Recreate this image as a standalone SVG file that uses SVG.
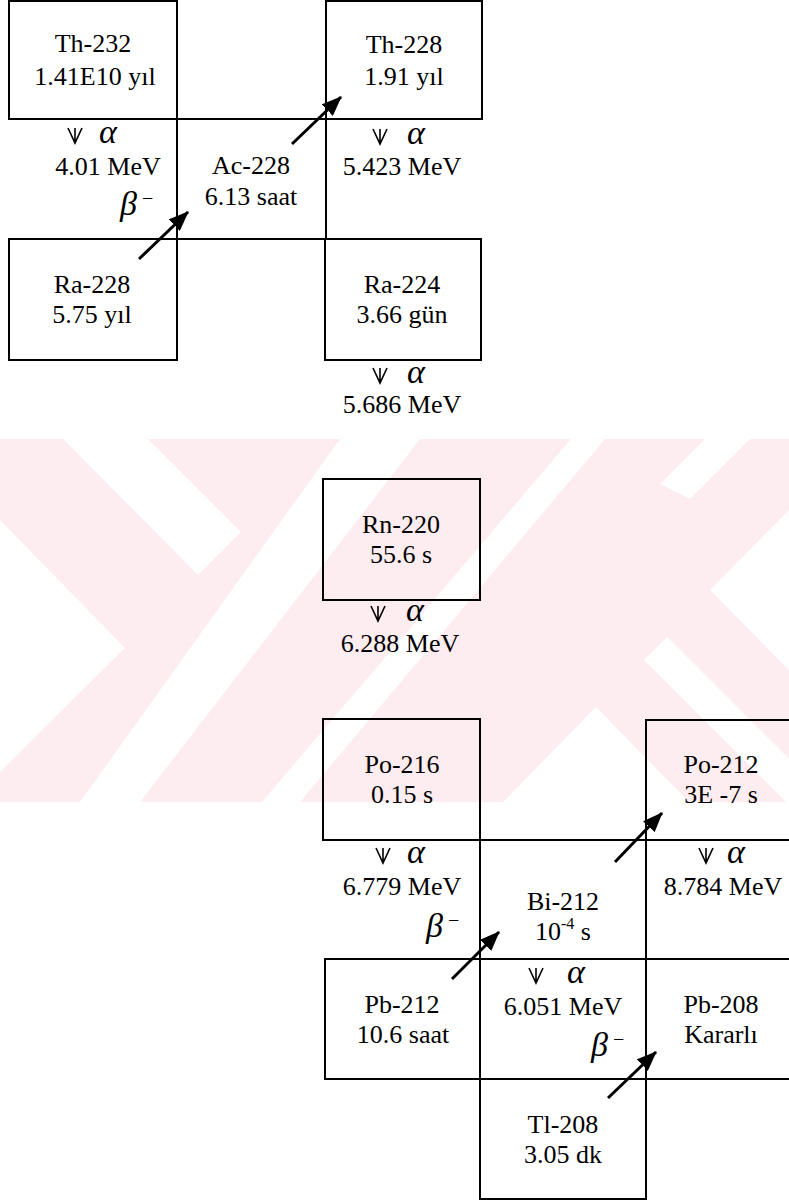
<svg xmlns="http://www.w3.org/2000/svg" width="789" height="1202" viewBox="0 0 789 1202">
<style>
.bx{fill:none;stroke:#000;stroke-width:2}
.t{font-family:"Liberation Serif","Times New Roman",serif;font-size:26px;fill:#000;text-anchor:middle}
.g{font-family:"Liberation Serif","Times New Roman",serif;font-style:italic;font-size:34px;fill:#000}
.m{font-family:"Liberation Serif","Times New Roman",serif;font-size:20px;fill:#000}
.ar{stroke:#000;stroke-width:3;fill:none;marker-end:url(#ah)}
.wm{fill:#fff}
</style>
<defs>
<marker id="ah" markerUnits="userSpaceOnUse" markerWidth="20" markerHeight="16" refX="19" refY="8" orient="auto">
<path d="M0,0 L20,8 L0,16 z" fill="#000"/>
</marker>
<symbol id="dn" viewBox="0 0 16 17" overflow="visible">
<path d="M1,1 L8,16 L15,1 M8,1 V16" fill="none" stroke="#000" stroke-width="1.6"/>
</symbol>
<clipPath id="wmclip"><rect x="0" y="439" width="789" height="363"/></clipPath>
</defs>
<rect width="789" height="1202" fill="#fff"/>
<g id="watermark" clip-path="url(#wmclip)">
<rect x="0" y="439" width="789" height="363" fill="#feedf0"/>
<polygon class="wm" points="63,439 148,439 241,532 198,575"/>
<polygon class="wm" points="0,520 125,648 0,772"/>
<polygon class="wm" points="340,439 420,439 140,802 80,802"/>
<polygon class="wm" points="571,439 605,439 300,802 262,802"/>
<polygon class="wm" points="705,439 750,439 690,499 660,484"/>
<polygon class="wm" points="596,707 689,802 503,802"/>
<polygon class="wm" points="789,510 710,590 789,670"/>
<polygon class="wm" points="667,637 789,759 789,805 644,660"/>
</g>
<g id="connectors">
<line class="ar" x1="292" y1="144" x2="341" y2="97"/>
<line class="ar" x1="139" y1="259" x2="188" y2="212"/>
<line class="ar" x1="452" y1="979" x2="499" y2="932"/>
<line class="ar" x1="615" y1="862" x2="662" y2="813"/>
<line class="ar" x1="608" y1="1098" x2="656" y2="1052"/>
<text class="g" x="120" y="215">β</text><text class="m" x="142" y="205">−</text>
<text class="g" x="426" y="937">β</text><text class="m" x="448" y="927">−</text>
<text class="g" x="591" y="1056">β</text><text class="m" x="613" y="1046">−</text>
<use href="#dn" x="67" y="127" width="16" height="17"/><text class="g" x="99" y="143">α</text><text class="t" x="108" y="175">4.01 MeV</text>
<use href="#dn" x="372" y="128" width="16" height="17"/><text class="g" x="407" y="144">α</text><text class="t" x="402" y="175">5.423 MeV</text>
<use href="#dn" x="372" y="367" width="16" height="17"/><text class="g" x="407" y="383">α</text><text class="t" x="402" y="413">5.686 MeV</text>
<use href="#dn" x="370" y="605" width="16" height="17"/><text class="g" x="406" y="621">α</text><text class="t" x="400" y="652">6.288 MeV</text>
<use href="#dn" x="375" y="847" width="16" height="17"/><text class="g" x="407" y="863">α</text><text class="t" x="402" y="895">6.779 MeV</text>
<use href="#dn" x="698" y="847" width="16" height="17"/><text class="g" x="727" y="863">α</text><text class="t" x="723" y="895">8.784 MeV</text>
<use href="#dn" x="528" y="967" width="16" height="17"/><text class="g" x="567" y="983">α</text><text class="t" x="563" y="1015">6.051 MeV</text>
</g>
<g id="th232"><rect class="bx" x="9" y="1" width="168" height="118"/><text class="t" x="93" y="52">Th-232</text><text class="t" x="95" y="85">1.41E10 yıl</text></g>
<g id="th228"><rect class="bx" x="326" y="1" width="156" height="118"/><text class="t" x="404" y="53">Th-228</text><text class="t" x="404" y="85">1.91 yıl</text></g>
<g id="ac228"><rect class="bx" x="177" y="119" width="149" height="120"/><text class="t" x="251" y="174">Ac-228</text><text class="t" x="251" y="205">6.13 saat</text></g>
<g id="ra228"><rect class="bx" x="9" y="239" width="168" height="121"/><text class="t" x="92" y="293">Ra-228</text><text class="t" x="92" y="323">5.75 yıl</text></g>
<g id="ra224"><rect class="bx" x="325" y="239" width="156" height="121"/><text class="t" x="402" y="293">Ra-224</text><text class="t" x="402" y="323">3.66 gün</text></g>
<g id="rn220"><rect class="bx" x="323" y="479" width="157" height="121"/><text class="t" x="401" y="533">Rn-220</text><text class="t" x="401" y="563">55.6 s</text></g>
<g id="po216"><rect class="bx" x="323" y="719" width="157" height="121"/><text class="t" x="402" y="773">Po-216</text><text class="t" x="402" y="803">0.15 s</text></g>
<g id="po212"><path class="bx" d="M790,720 H646 V840 H790"/><text class="t" x="721" y="773">Po-212</text><text class="t" x="721" y="803">3E -7 s</text></g>
<g id="bi212"><rect class="bx" x="480" y="840" width="166" height="119"/><text class="t" x="563" y="910">Bi-212</text><text class="t" x="563" y="940">10<tspan dy="-11" font-size="16">-4</tspan><tspan dy="11"> s</tspan></text></g>
<g id="pb212"><rect class="bx" x="325" y="959" width="155" height="120"/><text class="t" x="402" y="1013">Pb-212</text><text class="t" x="403" y="1043">10.6 saat</text></g>
<g id="pb208"><path class="bx" d="M790,959 H646 V1079 H790"/><text class="t" x="721" y="1013">Pb-208</text><text class="t" x="721" y="1043">Kararlı</text></g>
<g id="tl208"><rect class="bx" x="480" y="1079" width="166" height="120"/><text class="t" x="563" y="1133">Tl-208</text><text class="t" x="563" y="1163">3.05 dk</text></g>
</svg>
